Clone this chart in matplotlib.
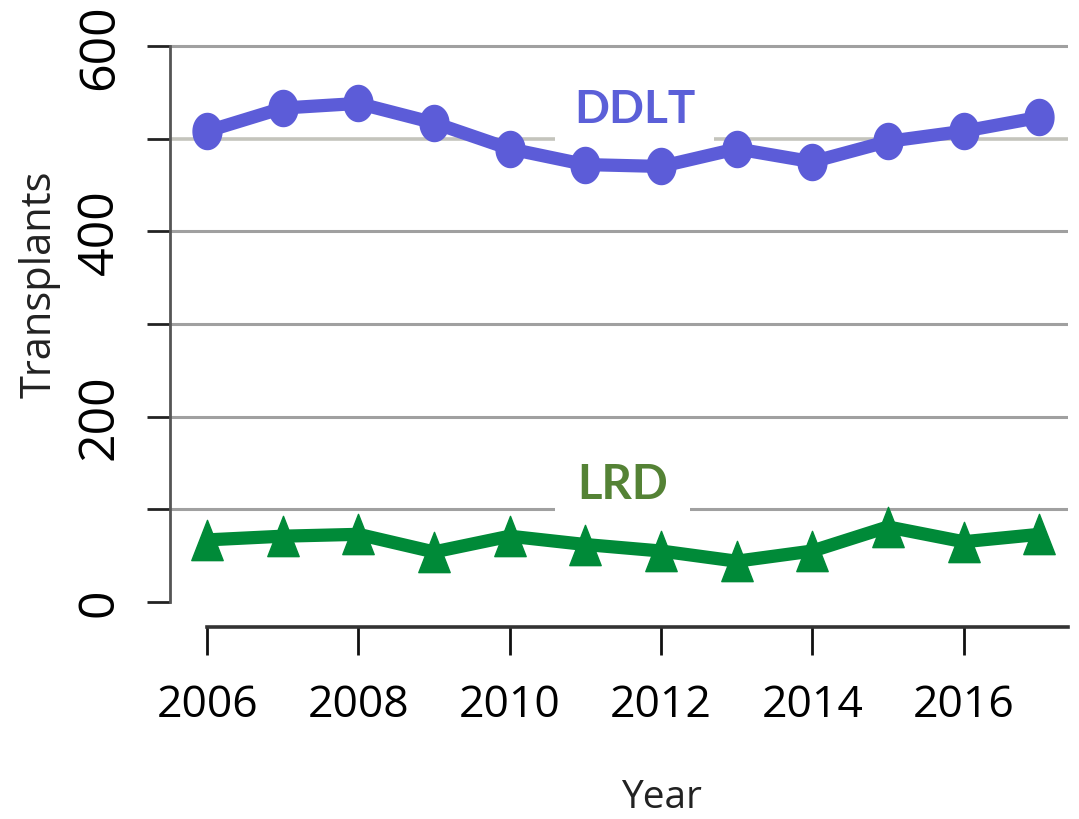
import numpy as np
import matplotlib
matplotlib.use("Agg")
import matplotlib.pyplot as plt
from matplotlib.path import Path

# values
years = [2006, 2007, 2008, 2009, 2010, 2011, 2012, 2013, 2014, 2015, 2016, 2017]
ddlt = [508, 533, 538, 517, 489, 472, 470, 489, 475, 497, 508, 523]
lrd = [67, 71, 73, 54, 71, 62, 55, 44, 55, 81, 65, 73]
y_ticks = [0, 200, 400, 600]
y_minor = [100, 300, 500]
x_ticks = [2006, 2008, 2010, 2012, 2014, 2016]
grid_levels = [100, 200, 300, 400, 600]

# slightly squashed markers, like in the source image
t = np.linspace(0, 2 * np.pi, 64)
ellipse = Path(np.column_stack([0.8 * np.cos(t), np.sin(t)]), closed=True)
tri = Path([(0, 1), (-0.78, -1), (0.78, -1), (0, 1)], closed=True)

fig = plt.figure(figsize=(10.79, 8.20), dpi=100)
W, H = 1079, 820
ax = fig.add_axes([170 / W, 1 - 628 / H, (1068 - 170) / W, (628 - 44) / H])
ax.set_xlim(2005.51, 2017.38)
ax.set_ylim(-27, 603.2)

for v in grid_levels:
    ax.axhline(v, color="#a0a0a0", lw=2.2, zorder=1)
ax.axhline(500, color="#c4c4bc", lw=2.6, zorder=1)

ax.plot(years, ddlt, color="#5c5cd8", lw=9.5, marker=ellipse, ms=26,
        solid_capstyle="butt", zorder=4)
ax.plot(years, lrd, color="#008a38", lw=9.5, marker=tri, ms=29,
        solid_capstyle="butt", zorder=4)

ax.text(2011.65, 532, "DDLT", color="#5b5fd8", fontsize=33, fontweight="bold",
        family=["Lato", "DejaVu Sans"], ha="center", va="center", zorder=3,
        bbox=dict(facecolor="white", edgecolor="none", pad=14))
ax.text(2011.49, 127, "LRD", color="#548235", fontsize=34, fontweight="bold",
        family=["Lato", "DejaVu Sans"], ha="center", va="center", zorder=3,
        bbox=dict(facecolor="white", edgecolor="none", pad=16))

for s in ["top", "right"]:
    ax.spines[s].set_visible(False)
ax.spines["left"].set_bounds(0, 600)
ax.spines["left"].set_color("#555555")
ax.spines["left"].set_linewidth(2)
ax.spines["bottom"].set_bounds(2006, 2017.38)
ax.spines["bottom"].set_color("#333333")
ax.spines["bottom"].set_linewidth(2.6)

ax.set_yticks(y_ticks)
ax.set_yticks(y_minor, minor=True)
ax.set_yticklabels([str(v) for v in y_ticks], rotation=90, va="center",
                   family=["Open Sans", "DejaVu Sans"], fontsize=36)
ax.tick_params(axis="y", which="both", length=16.5, width=2, color="#222222", pad=16)
ax.set_xticks(x_ticks)
ax.set_xticklabels([str(v) for v in x_ticks],
                   family=["Open Sans", "DejaVu Sans"], fontsize=32)
ax.tick_params(axis="x", length=20, width=2, color="#111111", pad=20)

fig.text(40 / W, 1 - 284 / H, "Transplants", rotation=90, ha="center", va="center",
         fontsize=30, family=["Open Sans", "DejaVu Sans"], color="#222222")
fig.text(661 / W, 1 - 798 / H, "Year", ha="center", va="center",
         fontsize=28, family=["Open Sans", "DejaVu Sans"], color="#222222")

fig.savefig("out.png", dpi=100)
